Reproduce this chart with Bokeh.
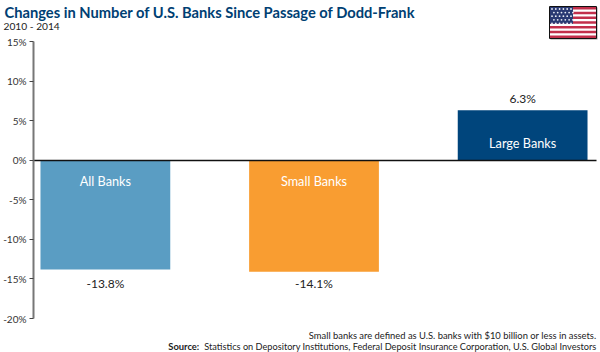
from bokeh.plotting import figure
from bokeh.layouts import column
from bokeh.models import Range1d, LinearAxis, FixedTicker, Label
from bokeh.embed import file_html
from bokeh.resources import INLINE

categories = ["All Banks", "Small Banks", "Large Banks"]
values = [-13.8, -14.1, 6.3]
value_labels = ["-13.8%", "-14.1%", "6.3%"]
colors = ["#5a9dc3", "#f99d31", "#00457c"]
ticks = [-20, -15, -10, -5, 0, 5, 10, 15]
title = "Changes in Number of U.S. Banks Since Passage of Dodd-Frank"
subtitle = "2010 - 2014"
note = "Small banks are defined as U.S. banks with $10 billion or less in assets."
source_head = "Source:"
source_body = "Statistics on Depository Institutions, Federal Deposit Insurance Corporation, U.S. Global Investors"

W, H = 600, 352
BAND = 40
OVERLAP = 6
TOP = BAND - OVERLAP
LEFT = 32
Y15, Y20 = 41.0, 318.0
PPU = (Y20 - Y15) / 35.0
PITCH = 209.0
X0 = 104.0

y_top = 15 + (Y15 - TOP) / PPU
y_bot = -20 - (H - Y20) / PPU
x_lo = (LEFT - X0) / PITCH
x_hi = (W - X0) / PITCH

# header band: title, subtitle, flag
band = figure(width=W, height=BAND, output_backend="svg", toolbar_location=None,
              x_range=Range1d(0, W), y_range=Range1d(BAND, 0), frame_align=False,
              min_border_left=0, min_border_right=0, min_border_top=0, min_border_bottom=0,
              margin=(0, 0, 0, 0), outline_line_color=None, x_axis_type=None, y_axis_type=None)
band.grid.visible = False

def band_label(x, y, text, size, color, style="normal"):
    band.add_layout(Label(x=x, y=y, text=text, text_align="left", text_baseline="middle",
                          text_color=color, text_font="Lato", text_font_size=size, text_font_style=style))

band_label(4, 11, title, "14.7px", "#004073", "bold")
band_label(3, 25, subtitle, "10.2px", "#222222")

fx0, fx1, fy0, fy1 = 549.0, 596.0, 6.0, 38.0
band.quad(left=[fx0 + 1], right=[fx1 + 1], top=[fy0 + 1], bottom=[fy1 + 1], fill_color="#999999", line_color=None)
band.quad(left=[fx0], right=[fx1], top=[fy0], bottom=[fy1], fill_color="white", line_color="#111111", line_width=1)
sh = (fy1 - fy0 - 1) / 13
rows = [i for i in range(13) if i % 2 == 0]
band.quad(left=[fx0 + .5] * len(rows), right=[fx1 - .5] * len(rows),
          top=[fy0 + .5 + i * sh for i in rows], bottom=[fy0 + .5 + (i + 1) * sh for i in rows],
          fill_color="#c22f4b", line_color=None)
band.quad(left=[fx0 + .5], right=[fx0 + 23.5], top=[fy0 + .5], bottom=[fy0 + .5 + 7 * sh],
          fill_color="#2a3a73", line_color=None)
sx, sy = [], []
for r in range(5):
    for c in range(6):
        sx.append(fx0 + 2.5 + c * 3.8 + (1.9 if r % 2 else 0))
        sy.append(fy0 + 2.5 + r * 3.6)
band.scatter(sx, sy, marker="circle", size=1.8, fill_color="#e8ecf5", line_color=None)

# main chart
p = figure(width=W, height=H - TOP, output_backend="svg", toolbar_location=None,
           x_range=Range1d(x_lo, x_hi), y_range=Range1d(y_bot, y_top), frame_align=False,
           min_border_left=LEFT, min_border_right=0, min_border_top=0, min_border_bottom=0,
           margin=(-OVERLAP, 0, 0, 0), outline_line_color=None,
           background_fill_alpha=0, border_fill_alpha=0,
           x_axis_type=None, y_axis_type=None)
p.grid.visible = False
p.extra_x_ranges = {"px": Range1d(LEFT, W)}
p.extra_y_ranges = {"px": Range1d(H, TOP)}

yax = LinearAxis(ticker=FixedTicker(ticks=ticks), bounds=(-20, 15),
                 major_label_overrides={t: f"{t}%" for t in ticks},
                 axis_line_color="#777777", axis_line_width=2,
                 major_tick_line_color="#444444", major_tick_line_width=1,
                 major_tick_in=0, major_tick_out=4, minor_tick_line_color=None,
                 major_label_text_font="Lato", major_label_text_font_size="10px",
                 major_label_text_color="#333333", major_label_standoff=3)
p.add_layout(yax, "left")

xs = list(range(len(categories)))
p.vbar(x=xs, top=values, bottom=0, width=130 / PITCH, fill_color=colors, line_color=None)
p.line(x=[27, 596], y=[160, 160], x_range_name="px", y_range_name="px", line_color="#111111", line_width=1.5)

for x, v, c, vl in zip(xs, values, categories, value_labels):
    inner = -2.6 if v < 0 else 2.2
    p.add_layout(Label(x=x, y=inner, text=c, text_align="center", text_baseline="middle",
                       text_color="white", text_font="Lato", text_font_size="12.7px"))
    outer = v + 1.5 if v > 0 else -15.6
    p.add_layout(Label(x=x, y=outer, text=vl, text_align="center", text_baseline="middle",
                       text_color="#222222", text_font="Lato", text_font_size="12px"))

def px_label(x, y, text, size, color="#222222", style="normal", align="left"):
    p.add_layout(Label(x=x, y=y, x_range_name="px", y_range_name="px", text=text,
                       text_align=align, text_baseline="middle", text_color=color,
                       text_font="Lato", text_font_size=size, text_font_style=style))

px_label(596, 335, note, "9.4px", "#222222", align="right")
px_label(596, 346, source_body, "9.2px", "#222222", align="right")
px_label(167, 346, source_head, "9.4px", "#222222", "bold")

open("out.html", "w").write(file_html(column(band, p, spacing=0), INLINE))
